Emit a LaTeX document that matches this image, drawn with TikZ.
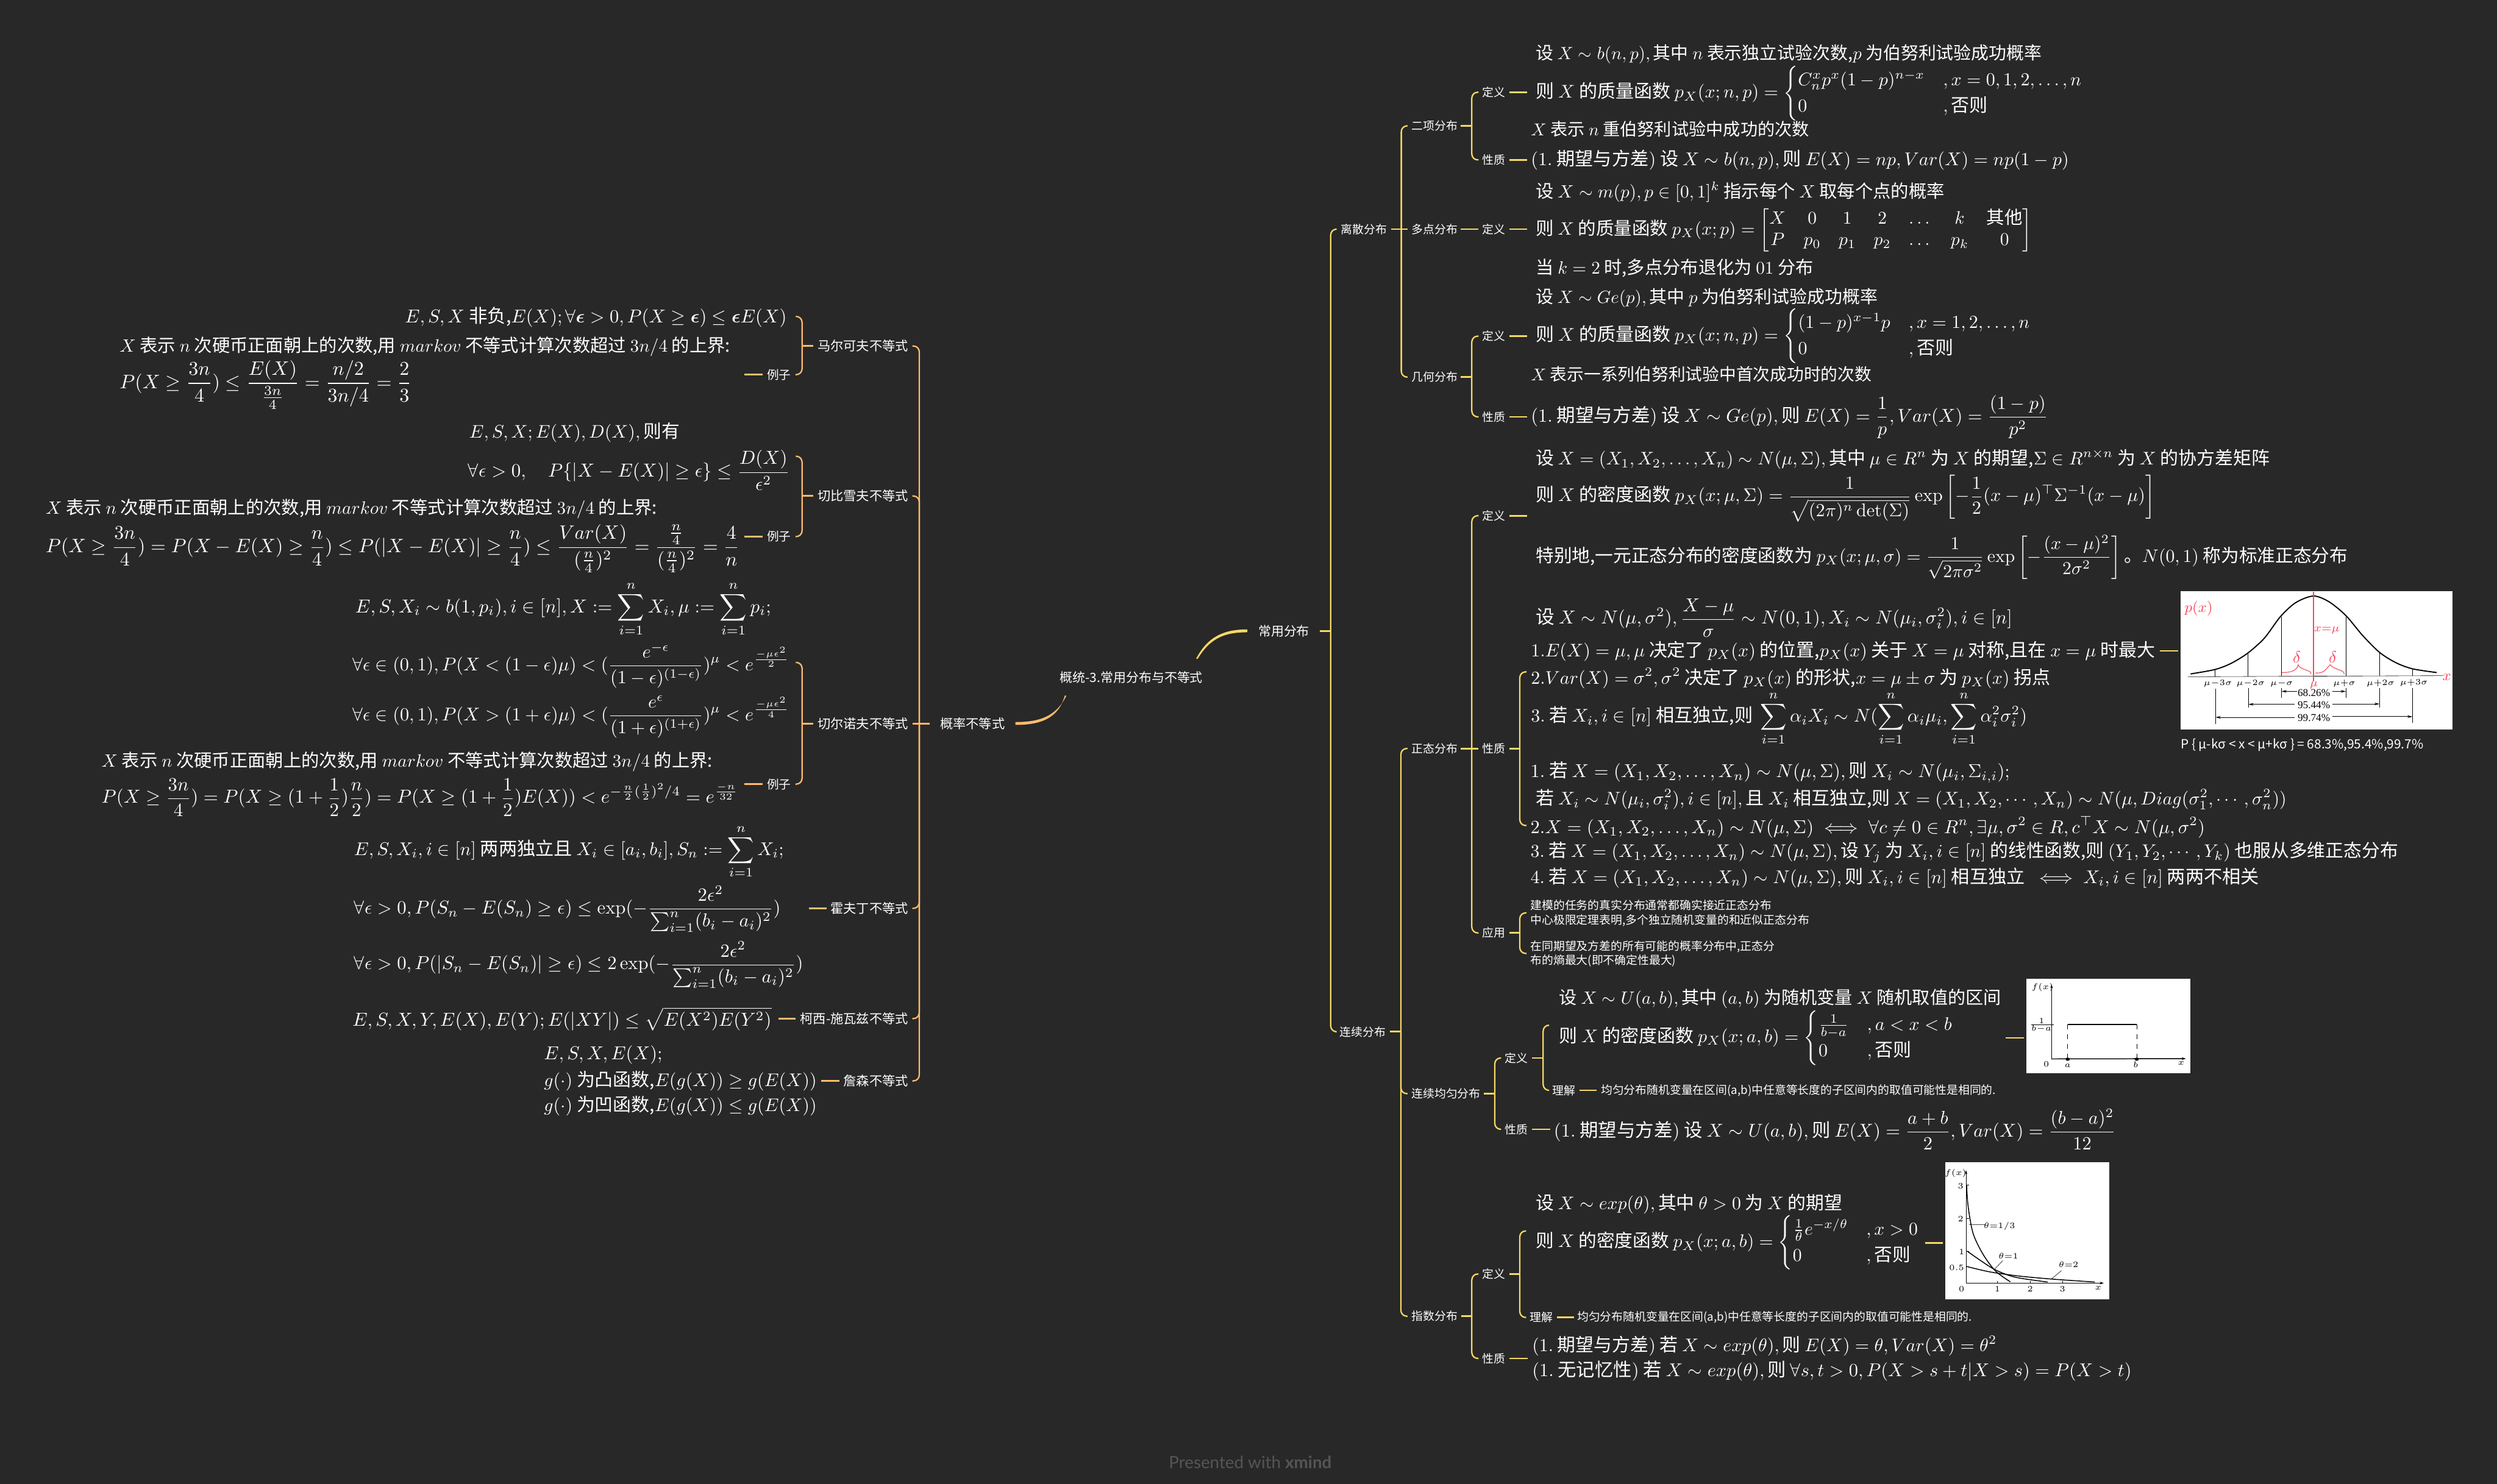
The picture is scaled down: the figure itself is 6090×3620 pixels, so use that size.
\documentclass[tikz,border=0pt]{standalone}
\usepackage{amsmath,amssymb,graphicx}
\usepackage[no-math]{fontspec}
\setmainfont{Noto Sans CJK SC}
\newfontfamily\imgserif{Liberation Serif}
\newfontfamily\wmfont{Lato}
\usetikzlibrary{calc,arrows.meta}
\definecolor{bgc}{HTML}{282828}
\definecolor{ylc}{HTML}{F6D965}
\definecolor{orc}{HTML}{FFBC6E}
\definecolor{redc}{HTML}{F5475B}
\definecolor{wmc}{HTML}{555555}
\newlength\fmlu \setlength\fmlu{0.25pt}
\tikzset{
 fnode/.style={anchor=west,inner sep=0pt,text=white},
 lbr/.style={anchor=west,inner sep=0pt,text=white,font=\fontsize{7}{8}\selectfont},
 lbl/.style={anchor=east,inner sep=0pt,text=white,font=\fontsize{7.9}{9}\selectfont},
 lbe/.style={anchor=east,inner sep=0pt,text=white,font=\fontsize{7.3}{8}\selectfont},
 ylw/.style={draw=ylc,line width=1.05pt},
 ybr/.style={draw=ylc,line width=0.85pt,rounded corners=3.6pt},
 olw/.style={draw=orc,line width=1.05pt},
 obr/.style={draw=orc,line width=0.85pt,rounded corners=3.6pt},
 imgtxt/.style={inner sep=0pt,text=black},
}
\newcommand\fml[5]{\node[fnode] (#1) at (#2,#3) {\resizebox{#4\fmlu}{!}{$\displaystyle #5$}};}
\newcommand\rhub[4]{\coordinate (#1) at ($(#2.east)+(#4,0)$);\draw[ylw] ($(#2.east)+(#3,0)$) -- (#1);}
\newcommand\rkid[3]{\draw[ybr] (#1) |- ($(#2.west)+(-#3,0)$);}
\newcommand\rend[2]{\draw[ybr] (#1) |- (#2);}
\newcommand\rstr[3]{\draw[ylw] (#1) -- ($(#2.west)+(-#3,0)$);}
\newcommand\rleaf[3]{\draw[ylw] ($(#1.east)+(#2,0)$) -- ++(#3,0);}
\newcommand\lhub[4]{\coordinate (#1) at ($(#2.west)+(-#4,0)$);\draw[olw] ($(#2.west)+(-#3,0)$) -- (#1);}
\newcommand\lkid[3]{\draw[obr] (#1) |- ($(#2.east)+(#3,0)$);}
\newcommand\lend[2]{\draw[obr] (#1) |- (#2);}
\newcommand\lstr[3]{\draw[olw] (#1) -- ($(#2.east)+(#3,0)$);}
\newcommand\lleaf[3]{\draw[olw] ($(#1.west)+(-#2,0)$) -- ++(-#3,0);}
\newcommand\coin{\text{ 表示 }n\text{ 次硬币正面朝上的次数,用 }markov\text{ 不等式计算次数超过 }3n/4\text{ 的上界:}}
\newcommand\mvn{X=(X_1,X_2,\dots,X_n)\sim N(\mu,\Sigma)}
\begin{document}
\begin{tikzpicture}[x=0.25pt,y=-0.25pt]
\useasboundingbox (0,0) rectangle (6090,3620);
\fill[bgc] (0,0) rectangle (6090,3620);

% ---------- topics ----------
\node[inner sep=0pt,text=white,font=\fontsize{7.8}{9}\selectfont] (root) at (2759,1652) {概统-3.常用分布与不等式};
\node[lbr,font=\fontsize{7.8}{9}\selectfont] (cy) at (3068,1539) {常用分布};
\node[lbr,font=\fontsize{7.9}{9}\selectfont] (gl) at (2292,1765) {概率不等式};

% right labels
\node[lbr] (tls) at (3270,559) {离散分布};
\node[lbr] (tlx) at (3267,2517) {连续分布};
\node[lbr] (tex) at (3442,307) {二项分布};
\node[lbr] (tdd) at (3442,559) {多点分布};
\node[lbr] (tjh) at (3442,920) {几何分布};
\node[lbr] (tzt) at (3442,1826) {正态分布};
\node[lbr] (tjy) at (3442,2668) {连续均匀分布};
\node[lbr] (tzs) at (3442,3211) {指数分布};
\node[lbr] (exd) at (3615,225) {定义};
\node[lbr] (exx) at (3615,390) {性质};
\node[lbr] (ddd) at (3615,559) {定义};
\node[lbr] (jhd) at (3615,820) {定义};
\node[lbr] (jhx) at (3615,1017) {性质};
\node[lbr] (ztd) at (3615,1258) {定义};
\node[lbr] (ztx) at (3615,1826) {性质};
\node[lbr] (zty) at (3615,2276) {应用};
\node[lbr] (jyd) at (3670,2581) {定义};
\node[lbr] (jyx) at (3670,2755) {性质};
\node[lbr] (jyl) at (3786,2660) {理解};
\node[lbr] (zsd) at (3615,3108) {定义};
\node[lbr] (zsx) at (3615,3314) {性质};
\node[lbr] (zsl) at (3730,3214) {理解};

% left labels
\node[lbl] (mk) at (2216,844) {马尔可夫不等式};
\node[lbl] (qb) at (2216,1210) {切比雪夫不等式};
\node[lbl] (qe) at (2216,1765) {切尔诺夫不等式};
\node[lbl] (hf) at (2216,2216) {霍夫丁不等式};
\node[lbl] (ks) at (2216,2485) {柯西-施瓦兹不等式};
\node[lbl] (zn) at (2216,2637) {詹森不等式};
\node[lbe] (mke) at (1930,914) {例子};
\node[lbe] (qbe) at (1930,1309) {例子};
\node[lbe] (qee) at (1930,1913) {例子};

% ---------- right formulas ----------
\fml{ra}{3745}{132}{1234}{\text{设 }X\sim b(n,p),\text{其中 }n\text{ 表示独立试验次数,}p\text{ 为伯努利试验成功概率}}
\fml{rb}{3745}{228}{1336}{\text{则 }X\text{ 的质量函数 }p_X(x;n,p)=\begin{cases}C_n^xp^x(1-p)^{n-x} & ,x=0,1,2,\dots,n\\ 0 & ,\text{否则}\end{cases}}
\fml{rc}{3733}{315}{679}{X\text{ 表示 }n\text{ 重伯努利试验中成功的次数}}
\fml{rd}{3733}{390}{1312}{(1.\ \text{期望与方差})\ \text{设 }X\sim b(n,p),\text{则 }E(X)=np,Var(X)=np(1-p)}
\fml{re}{3745}{468}{997}{\text{设 }X\sim m(p),p\in[0,1]^k\text{ 指示每个 }X\text{ 取每个点的概率}}
\fml{rf}{3745}{562}{1210}{\text{则 }X\text{ 的质量函数 }p_X(x;p)=\begin{bmatrix}X&0&1&2&\dots&k&\text{其他}\\ P&p_0&p_1&p_2&\dots&p_k&0\end{bmatrix}}
\fml{rg}{3745}{654}{677}{\text{当 }k=2\text{ 时,多点分布退化为 }01\text{ 分布}}
\fml{rh}{3745}{727}{834}{\text{设 }X\sim Ge(p),\text{其中 }p\text{ 为伯努利试验成功概率}}
\fml{ri}{3745}{820}{1210}{\text{则 }X\text{ 的质量函数 }p_X(x;n,p)=\begin{cases}(1-p)^{x-1}p & ,x=1,2,\dots,n\\ 0 & ,\text{否则}\end{cases}}
\fml{rj}{3733}{913}{831}{X\text{ 表示一系列伯努利试验中首次成功时的次数}}
\fml{rk}{3733}{1017}{1261}{(1.\ \text{期望与方差})\ \text{设 }X\sim Ge(p),\text{则 }E(X)=\frac{1}{p},Var(X)=\frac{(1-p)}{p^2}}
\fml{rl}{3745}{1121}{1790}{\text{设 }\mvn,\text{其中 }\mu\in R^n\text{ 为 }X\text{ 的期望,}\Sigma\in R^{n\times n}\text{ 为 }X\text{ 的协方差矩阵}}
\fml{rm}{3745}{1216}{1510}{\text{则 }X\text{ 的密度函数 }p_X(x;\mu,\Sigma)=\frac{1}{\sqrt{(2\pi)^n\det(\Sigma)}}\exp\left[-\frac{1}{2}(x-\mu)^\top\Sigma^{-1}(x-\mu)\right]}
\fml{rn}{3745}{1359}{1980}{\text{特别地,一元正态分布的密度函数为 }p_X(x;\mu,\sigma)=\frac{1}{\sqrt{2\pi\sigma^2}}\exp\left[-\frac{(x-\mu)^2}{2\sigma^2}\right]\text{。}N(0,1)\text{ 称为标准正态分布}}
\fml{ro}{3745}{1507}{1162}{\text{设 }X\sim N(\mu,\sigma^2),\frac{X-\mu}{\sigma}\sim N(0,1),X_i\sim N(\mu_i,\sigma_i^2),i\in[n]}
\fml{rp}{3733}{1588}{1522}{1.E(X)=\mu,\mu\text{ 决定了 }p_X(x)\text{ 的位置,}p_X(x)\text{ 关于 }X=\mu\text{ 对称,且在 }x=\mu\text{ 时最大}}
\fml{rq}{3733}{1655}{1267}{2.Var(X)=\sigma^2,\sigma^2\text{ 决定了 }p_X(x)\text{ 的形状,}x=\mu\pm\sigma\text{ 为 }p_X(x)\text{ 拐点}}
\fml{rr}{3733}{1753}{1210}{3.\text{ 若 }X_i,i\in[n]\text{ 相互独立,则 }\sum_{i=1}^n\alpha_iX_i\sim N(\sum_{i=1}^n\alpha_i\mu_i,\sum_{i=1}^n\alpha_i^2\sigma_i^2)}
\fml{rs}{3732}{1884}{1169}{1.\text{ 若 }\mvn,\text{则 }X_i\sim N(\mu_i,\Sigma_{i,i});}
\fml{rt}{3745}{1950}{1831}{\text{若 }X_i\sim N(\mu_i,\sigma_i^2),i\in[n],\text{且 }X_i\text{ 相互独立,则 }X=(X_1,X_2,\cdots,X_n)\sim N(\mu,Diag(\sigma_1^2,\cdots,\sigma_n^2))}
\fml{ru}{3732}{2018}{1645}{2.\mvn\iff\forall c\neq 0\in R^n,\exists\mu,\sigma^2\in R,c^\top X\sim N(\mu,\sigma^2)}
\fml{rv}{3732}{2079}{2116}{3.\text{ 若 }\mvn,\text{设 }Y_j\text{ 为 }X_i,i\in[n]\text{ 的线性函数,则 }(Y_1,Y_2,\cdots,Y_k)\text{ 也服从多维正态分布}}
\fml{rw}{3732}{2141}{1777}{4.\text{ 若 }\mvn,\text{则 }X_i,i\in[n]\text{ 相互独立 }\iff X_i,i\in[n]\text{ 两两不相关}}
\node[lbr] (ya) at (3732,2209) {建模的任务的真实分布通常都确实接近正态分布};
\node[lbr] (yb) at (3732,2246) {中心极限定理表明,多个独立随机变量的和近似正态分布};
\node[lbr] (yc) at (3732,2309) {在同期望及方差的所有可能的概率分布中,正态分};
\node[lbr] (yd) at (3732,2344) {布的熵最大(即不确定性最大)};
\fml{ua}{3802}{2437}{1078}{\text{设 }X\sim U(a,b),\text{其中 }(a,b)\text{ 为随机变量 }X\text{ 随机取值的区间}}
\fml{ub}{3802}{2532}{963}{\text{则 }X\text{ 的密度函数 }p_X(x;a,b)=\begin{cases}\frac{1}{b-a} & ,a<x<b\\ 0 & ,\text{否则}\end{cases}}
\fml{uc}{3904}{2660}{963}{\text{均匀分布随机变量在区间(a,b)中任意等长度的子区间内的取值可能性是相同的.}}
\fml{ud}{3789}{2755}{1371}{(1.\ \text{期望与方差})\ \text{设 }X\sim U(a,b),\text{则 }E(X)=\frac{a+b}{2},Var(X)=\frac{(b-a)^2}{12}}
\fml{ea}{3745}{2938}{748}{\text{设 }X\sim exp(\theta),\text{其中 }\theta>0\text{ 为 }X\text{ 的期望}}
\fml{eb}{3745}{3032}{937}{\text{则 }X\text{ 的密度函数 }p_X(x;a,b)=\begin{cases}\frac{1}{\theta}e^{-x/\theta} & ,x>0\\ 0 & ,\text{否则}\end{cases}}
\fml{ec}{3846}{3214}{963}{\text{均匀分布随机变量在区间(a,b)中任意等长度的子区间内的取值可能性是相同的.}}
\fml{ed}{3736}{3284}{1133}{(1.\ \text{期望与方差})\ \text{若 }X\sim exp(\theta),\text{则 }E(X)=\theta,Var(X)=\theta^2}
\fml{ef}{3736}{3345}{1462}{(1.\ \text{无记忆性})\ \text{若 }X\sim exp(\theta),\text{则 }\forall s,t>0,P(X>s+t|X>s)=P(X>t)}

% ---------- left formulas ----------
\fml{la}{987}{774}{931}{E,S,X\text{ 非负,}E(X);\forall\boldsymbol{\epsilon}>0,P(X\geq\boldsymbol{\epsilon})\leq\boldsymbol{\epsilon}E(X)}
\fml{lb}{291}{846}{1489}{X\coin}
\fml{lc}{291}{939}{712}{P(X\geq\frac{3n}{4})\leq\frac{E(X)}{\frac{3n}{4}}=\frac{n/2}{3n/4}=\frac{2}{3}}
\fml{ld}{1144}{1055}{513}{E,S,X;E(X),D(X),\text{则有}}
\fml{le}{1141}{1147}{784}{\forall\epsilon>0,\quad P\{|X-E(X)|\geq\epsilon\}\leq\frac{D(X)}{\epsilon^2}}
\fml{lf}{111}{1241}{1491}{X\coin}
\fml{lg}{111}{1338}{1692}{P(X\geq\frac{3n}{4})=P(X-E(X)\geq\frac{n}{4})\leq P(|X-E(X)|\geq\frac{n}{4})\leq\frac{Var(X)}{(\frac{n}{4})^2}=\frac{\frac{n}{4}}{(\frac{n}{4})^2}=\frac{4}{n}}
\fml{lh}{866}{1486}{1014}{E,S,X_i\sim b(1,p_i),i\in[n],X:=\sum_{i=1}^nX_i,\mu:=\sum_{i=1}^np_i;}
\fml{li}{859}{1624}{1066}{\forall\epsilon\in(0,1),P(X<(1-\epsilon)\mu)<(\frac{e^{-\epsilon}}{(1-\epsilon)^{(1-\epsilon)}})^\mu<e^{\frac{-\mu\epsilon^2}{2}}}
\fml{lj}{859}{1749}{1066}{\forall\epsilon\in(0,1),P(X>(1+\epsilon)\mu)<(\frac{e^{\epsilon}}{(1+\epsilon)^{(1+\epsilon)}})^\mu<e^{\frac{-\mu\epsilon^2}{4}}}
\fml{lk}{247}{1858}{1490}{X\coin}
\fml{ll}{247}{1945}{1553}{P(X\geq\frac{3n}{4})=P(X\geq(1+\frac{1}{2})\frac{n}{2})=P(X\geq(1+\frac{1}{2})E(X))<e^{-\frac{n}{2}(\frac{1}{2})^2/4}=e^{\frac{-n}{32}}}
\fml{lm}{863}{2078}{1048}{E,S,X_i,i\in[n]\text{ 两两独立且 }X_i\in[a_i,b_i],S_n:=\sum_{i=1}^nX_i;}
\fml{ln}{863}{2218}{1040}{\forall\epsilon>0,P(S_n-E(S_n)\geq\epsilon)\leq\exp(-\frac{2\epsilon^2}{\sum_{i=1}^n(b_i-a_i)^2})}
\fml{lo}{863}{2354}{1095}{\forall\epsilon>0,P(|S_n-E(S_n)|\geq\epsilon)\leq2\exp(-\frac{2\epsilon^2}{\sum_{i=1}^n(b_i-a_i)^2})}
\fml{lp}{859}{2486}{1022}{E,S,X,Y,E(X),E(Y);E(|XY|)\leq\sqrt{E(X^2)E(Y^2)}}
\fml{lq}{1326}{2573}{289}{E,S,X,E(X);}
\fml{lr}{1326}{2637}{665}{g(\cdot)\text{ 为凸函数,}E(g(X))\geq g(E(X))}
\fml{lt}{1326}{2698}{665}{g(\cdot)\text{ 为凹函数,}E(g(X))\leq g(E(X))}

% ---------- root connectors ----------
\fill[ylc] ($(root.east)+(-17,-45)$) .. controls ($(root.east)+(12,-100)$) and ($(root.east)+(52,-116.5)$) .. ($(cy.west)+(-26,-3.5)$) -- ($(cy.west)+(-26,3.5)$) .. controls ($(root.east)+(55,-109.5)$) and ($(root.east)+(18,-97)$) .. ($(root.east)+(-13,-45)$) -- cycle;
\fill[orc] ($(root.west)+(17,45)$) .. controls ($(root.west)+(-8,97)$) and ($(root.west)+(-50,109.5)$) .. ($(gl.east)+(25,-3.5)$) -- ($(gl.east)+(25,3.5)$) .. controls ($(root.west)+(-45,116.5)$) and ($(root.west)+(-2,100)$) .. ($(root.west)+(13,45)$) -- cycle;

% ---------- right connectors ----------
\rhub{hcy}{cy}{25}{51}
\rkid{hcy}{tls}{10}\rkid{hcy}{tlx}{10}
\rhub{hls}{tls}{9}{34}
\rkid{hls}{tex}{9}\rstr{hls}{tdd}{9}\rkid{hls}{tjh}{9}
\rhub{hlx}{tlx}{9}{36}
\rkid{hlx}{tzt}{9}\rkid{hlx}{tjy}{9}\rkid{hlx}{tzs}{9}
\rhub{hex}{tex}{7}{34}\rkid{hex}{exd}{9}\rkid{hex}{exx}{9}
\rhub{hdd}{tdd}{7}{34}\rstr{hdd}{ddd}{9}
\rhub{hjh}{tjh}{7}{34}\rkid{hjh}{jhd}{9}\rkid{hjh}{jhx}{9}
\rhub{hzt}{tzt}{7}{34}\rkid{hzt}{ztd}{9}\rstr{hzt}{ztx}{9}\rkid{hzt}{zty}{9}
\rhub{hjy}{tjy}{8}{34}\rkid{hjy}{jyd}{9}\rkid{hjy}{jyx}{9}
\rhub{hzs}{tzs}{8}{34}\rkid{hzs}{zsd}{9}\rkid{hzs}{zsx}{9}
\rleaf{exd}{8}{44}\rleaf{exx}{8}{44}\rleaf{ddd}{8}{44}\rleaf{jhd}{8}{44}\rleaf{jhx}{8}{44}\rleaf{ztd}{8}{44}
\rleaf{jyl}{8}{43}\rleaf{jyx}{9}{44}\rleaf{zsl}{10}{41}\rleaf{zsx}{9}{44}
\rhub{hztx}{ztx}{9}{34}
\coordinate (g1) at (3723,1639);\coordinate (g2) at (3723,2014);
\rend{hztx}{g1}\rend{hztx}{g2}
\rhub{hzty}{zty}{9}{34}
\coordinate (g3) at (3723,2227);\coordinate (g4) at (3723,2326);
\rend{hzty}{g3}\rend{hzty}{g4}
\rhub{hjyd}{jyd}{9}{36}
\coordinate (g5) at (3778,2501);
\rend{hjyd}{g5}\rkid{hjyd}{jyl}{8}
\rhub{hzsd}{zsd}{9}{34}
\coordinate (g6) at (3722,3003);
\rend{hzsd}{g6}\rkid{hzsd}{zsl}{8}

% ---------- left connectors ----------
\lhub{hgl}{gl}{24}{50}
\lkid{hgl}{mk}{9}\lkid{hgl}{qb}{9}\lstr{hgl}{qe}{9}\lkid{hgl}{hf}{9}\lkid{hgl}{ks}{9}\lkid{hgl}{zn}{9}
\lhub{hmk}{mk}{10}{37}
\coordinate (t1) at (1941,772);\lend{hmk}{t1}\lkid{hmk}{mke}{10}
\lhub{hqb}{qb}{10}{37}
\coordinate (t2) at (1941,1113);\lend{hqb}{t2}\lkid{hqb}{qbe}{10}
\lhub{hqe}{qe}{10}{37}
\coordinate (t3) at (1941,1616);\lend{hqe}{t3}\lkid{hqe}{qee}{10}
\lleaf{mke}{10}{45}\lleaf{qbe}{10}{45}\lleaf{qee}{10}{45}
\lleaf{hf}{9}{43}\lleaf{ks}{10}{42}\lleaf{zn}{9}{45}

% ---------- normal curve picture ----------
\rleaf{rp}{11}{44}
\begin{scope}[shift={(5250,1400)},x=0.11962pt,y=-0.08333pt]
 \fill[white] (144,128) rectangle (1528,1137);
 \draw[black,line width=0.22pt] (180,753) -- (1480,745);
 \foreach \a/\b/\c in {318/700/750,485/578/750,656/312/748,985/305/747,1157/575/745,1325/695/745}
   \draw[black,line width=0.22pt] (\a,\b) -- (\a,\c);
 \draw[black,line width=0.7pt,line cap=round] plot[smooth] coordinates {(195,732)(318,700)(400,655)(485,580)(570,470)(652,312)(730,210)(820,162)(900,205)(985,305)(1070,450)(1157,575)(1240,650)(1325,695)(1447,722)};
 \draw[redc,line width=0.55pt] (820,132) -- (820,785);
 \draw[redc,line width=0.4pt,line cap=round] (660,722) .. controls (720,722) and (735,700) .. (742,665) .. controls (750,705) and (808,700) .. (808,732);
 \draw[redc,line width=0.4pt,line cap=round] (830,725) .. controls (880,730) and (885,690) .. (905,665) .. controls (920,700) and (975,700) .. (977,732);
 \node[text=redc,inner sep=0pt,font=\fontsize{9}{10}\selectfont] (pxl) at (235,255) {$p(x)$};
 \node[text=redc,inner sep=0pt,font=\fontsize{7}{8}\selectfont] (xml) at (888,415) {$x{=}\mu$};
 \node[text=redc,inner sep=0pt,font=\fontsize{10}{11}\selectfont] (dl1) at (735,610) {$\delta$};
 \node[text=redc,inner sep=0pt,font=\fontsize{10}{11}\selectfont] (dl2) at (918,610) {$\delta$};
 \node[text=redc,inner sep=0pt,font=\fontsize{7}{8}\selectfont] (mul) at (822,815) {$\mu$};
 \node[text=redc,inner sep=0pt,font=\fontsize{9}{10}\selectfont] (xal) at (1500,755) {$x$};
 \node[imgtxt,font=\fontsize{5}{6}\selectfont] (t3m) at (333,800) {$\mu{-}3\sigma$};
 \node[imgtxt,font=\fontsize{5}{6}\selectfont] (t2m) at (500,800) {$\mu{-}2\sigma$};
 \node[imgtxt,font=\fontsize{5}{6}\selectfont] (t1m) at (658,800) {$\mu{-}\sigma$};
 \node[imgtxt,font=\fontsize{5}{6}\selectfont] (t1p) at (978,800) {$\mu{+}\sigma$};
 \node[imgtxt,font=\fontsize{5}{6}\selectfont] (t2p) at (1162,800) {$\mu{+}2\sigma$};
 \node[imgtxt,font=\fontsize{5}{6}\selectfont] (t3p) at (1332,795) {$\mu{+}3\sigma$};
 \foreach \a/\b/\c in {656/838/908,985/838/908,487/838/980,1157/835/978,320/840/1098,1326/835/1090}
   \draw[black,line width=0.22pt] (\a,\b) -- (\a,\c);
 \tikzset{tipimg/.style={black,line width=0.3pt,-{Stealth[length=3.2pt,width=1.6pt]}}}
 \draw[tipimg] (735,860) -- (657,860);\draw[tipimg] (915,860) -- (985,860);
 \draw[tipimg] (725,955) -- (488,955);\draw[tipimg] (918,952) -- (1157,952);
 \draw[tipimg] (725,1050) -- (321,1050);\draw[tipimg] (918,1045) -- (1325,1045);
 \node[imgtxt,font=\imgserif\fontsize{6.4}{7}\selectfont] (pa) at (822,870) {68.26\%};
 \node[imgtxt,font=\imgserif\fontsize{6.4}{7}\selectfont] (pb) at (822,960) {95.44\%};
 \node[imgtxt,font=\imgserif\fontsize{6.4}{7}\selectfont] (pc) at (822,1055) {99.74\%};
\end{scope}
\fml{cap}{5318}{1818}{592}{\text{P \{ μ-kσ < x <  μ+kσ \} = 68.3\%,95.4\%,99.7\%}}

% ---------- uniform picture ----------
\rleaf{ub}{125}{44}
\begin{scope}[shift={(3400,2360)},x=0.31888pt,y=-0.08333pt]
 \fill[white] (1209,82) rectangle (1523,775);
 \draw[black,line width=0.22pt,-{Stealth[length=2.5pt,width=1.4pt]}] (1257,672) -- (1257,125);
 \draw[black,line width=0.55pt,-{Stealth[length=2.5pt,width=1.6pt]}] (1257,670) -- (1514,668);
 \draw[black,line width=0.6pt] (1288,418) -- (1420,418);
 \draw[black,line width=0.22pt] (1250,418) -- (1262,418);
 \draw[black,line width=0.22pt,dashed] (1288,418) -- (1288,672) (1420,418) -- (1420,672);
 \fill[black] (1288,672) circle[x radius=4,y radius=12] (1420,672) circle[x radius=4,y radius=12];
 \node[imgtxt,font=\fontsize{5}{6}\selectfont] (uf) at (1240,145) {$f(x)$};
 \node[imgtxt,font=\fontsize{5}{6}\selectfont] (ufr) at (1238,425) {$\frac{1}{b-a}$};
 \node[imgtxt,font=\fontsize{5}{6}\selectfont] (u0) at (1247,710) {$0$};
 \node[imgtxt,font=\fontsize{5}{6}\selectfont] (ua0) at (1288,718) {$a$};
 \node[imgtxt,font=\fontsize{5}{6}\selectfont] (ub0) at (1418,712) {$b$};
 \node[imgtxt,font=\fontsize{5}{6}\selectfont] (ux) at (1505,703) {$x$};
\end{scope}

% ---------- exponential picture ----------
\rleaf{eb}{11}{44}
\begin{scope}[shift={(3400,2820)},x=0.30303pt,y=-0.12755pt]
 \fill[white] (1109,30) rectangle (1439,686);
 \draw[black,line width=0.25pt,-{Stealth[length=2.5pt,width=1.4pt]}] (1151,608) -- (1151,68);
 \draw[black,line width=0.25pt,-{Stealth[length=2.5pt,width=1.6pt]}] (1151,608) -- (1428,608);
 \draw[black,line width=0.55pt] plot[smooth] coordinates {(1152,140)(1155,240)(1165,370)(1185,470)(1210,550)(1240,602)};
 \draw[black,line width=0.55pt] plot[smooth] coordinates {(1153,455)(1180,500)(1210,545)(1250,580)(1315,603)};
 \draw[black,line width=0.55pt] plot[smooth] coordinates {(1151,528)(1200,555)(1260,575)(1330,590)(1410,603)};
 \foreach \p in {1214,1280,1345} \draw[black,line width=0.22pt] (\p,598) -- (\p,608);
 \foreach \p in {140,298,455,528} \draw[black,line width=0.22pt] (1151,\p) -- (1157,\p);
 \draw[black,line width=0.22pt] (1157,328) -- (1190,328) (1225,500) -- (1207,545) (1343,548) -- (1322,590);
 \node[imgtxt,font=\fontsize{5}{6}\selectfont] (exf) at (1130,82) {$f(x)$};
 \node[imgtxt,font=\fontsize{5}{6}\selectfont] (ey3) at (1140,145) {$3$};
 \node[imgtxt,font=\fontsize{5}{6}\selectfont] (ey2) at (1140,302) {$2$};
 \node[imgtxt,font=\fontsize{5}{6}\selectfont] (ey1) at (1142,458) {$1$};
 \node[imgtxt,font=\fontsize{5}{6}\selectfont] (eyh) at (1132,535) {$0.5$};
 \node[imgtxt,font=\fontsize{5}{6}\selectfont] (ex0) at (1142,637) {$0$};
 \node[imgtxt,font=\fontsize{5}{6}\selectfont] (ex1) at (1214,637) {$1$};
 \node[imgtxt,font=\fontsize{5}{6}\selectfont] (ex2) at (1280,637) {$2$};
 \node[imgtxt,font=\fontsize{5}{6}\selectfont] (ex3) at (1345,637) {$3$};
 \node[imgtxt,font=\fontsize{5}{6}\selectfont] (exx0) at (1417,633) {$x$};
 \node[imgtxt,font=\fontsize{5}{6}\selectfont] (th1) at (1218,337) {$\theta{=}1/3$};
 \node[imgtxt,font=\fontsize{5}{6}\selectfont] (th2) at (1236,477) {$\theta{=}1$};
 \node[imgtxt,font=\fontsize{5}{6}\selectfont] (th3) at (1357,520) {$\theta{=}2$};
\end{scope}

% ---------- watermark ----------
\node[inner sep=0pt,anchor=west,text=wmc] (wm) at (2850,3568) {\resizebox{397\fmlu}{!}{\wmfont Presented with \textbf{xmind}}};
\end{tikzpicture}
\end{document}
